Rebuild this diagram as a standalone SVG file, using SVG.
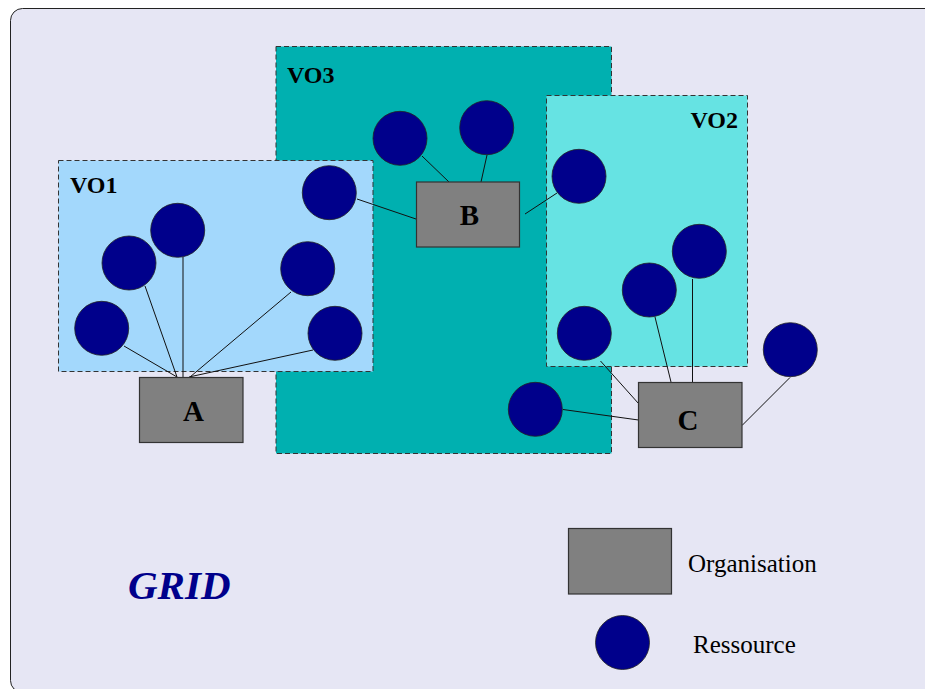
<svg xmlns="http://www.w3.org/2000/svg" width="925" height="689" viewBox="0 0 925 689">
<style>
.vo{stroke:#333;stroke-width:1;stroke-dasharray:5,3}
.org{fill:#808080;stroke:#333;stroke-width:1.2}
.res{fill:#00008B;stroke:#222;stroke-width:0.8}
.conn line{stroke:#111;stroke-width:1}
.lbl{font-family:"Liberation Serif",serif;font-weight:bold;fill:#000}
.leg{font-family:"Liberation Serif",serif;font-size:25px;fill:#000}
</style>
<rect x="0" y="0" width="925" height="689" fill="#ffffff"/>
<rect x="10.5" y="8.5" width="930" height="684" rx="12" fill="#E6E6F4" stroke="#222" stroke-width="1"/>
<g id="VO3"><rect class="vo" x="276" y="46.5" width="335.5" height="407" fill="#00B0B0"/><text class="lbl" x="287" y="83" font-size="24">VO3</text></g>
<g id="VO1"><rect class="vo" x="58.5" y="160.5" width="314.5" height="211" fill="#A3D8FC"/><text class="lbl" x="70" y="192.5" font-size="24">VO1</text></g>
<g id="VO2"><rect class="vo" x="546.5" y="95.5" width="201" height="271" fill="#66E3E3"/><text class="lbl" x="738" y="127.5" font-size="24" text-anchor="end">VO2</text></g>
<g id="connectors" class="conn">
<line x1="124" y1="346" x2="177" y2="377"/>
<line x1="145" y1="286" x2="177" y2="377"/>
<line x1="183" y1="257" x2="183" y2="377"/>
<line x1="291" y1="292" x2="190" y2="377"/>
<line x1="313" y1="350" x2="189" y2="377"/>
<line x1="357" y1="199" x2="416" y2="219"/>
<line x1="422" y1="156" x2="449" y2="182"/>
<line x1="487" y1="155" x2="481" y2="182"/>
<line x1="557" y1="193" x2="525" y2="214"/>
<line x1="600.5" y1="361" x2="638.5" y2="403.5"/>
<line x1="655" y1="317" x2="671" y2="382"/>
<line x1="692.5" y1="279" x2="692.5" y2="382"/>
<line x1="563" y1="409.5" x2="638.5" y2="420"/>
<line x1="790" y1="377.5" x2="742" y2="425.5"/>
</g>
<g id="A"><rect class="org" x="139.5" y="377.5" width="103.5" height="65"/><text class="lbl" x="193.5" y="421" font-size="29" text-anchor="middle">A</text></g>
<g id="B"><rect class="org" x="416.5" y="182" width="103" height="65"/><text class="lbl" x="469.5" y="224.5" font-size="29" text-anchor="middle">B</text></g>
<g id="C"><rect class="org" x="638.5" y="382.5" width="103.5" height="65"/><text class="lbl" x="688" y="430" font-size="29" text-anchor="middle">C</text></g>
<g id="r1"><circle class="res" cx="101.7" cy="328.3" r="27"/></g>
<g id="r2"><circle class="res" cx="129" cy="263" r="27"/></g>
<g id="r3"><circle class="res" cx="177.7" cy="230.3" r="27"/></g>
<g id="r4"><circle class="res" cx="307.7" cy="268.7" r="27"/></g>
<g id="r5"><circle class="res" cx="335" cy="333.3" r="27"/></g>
<g id="r6"><circle class="res" cx="329.3" cy="192.7" r="27"/></g>
<g id="r7"><circle class="res" cx="400" cy="138.3" r="27"/></g>
<g id="r8"><circle class="res" cx="486.7" cy="127.7" r="27"/></g>
<g id="r9"><circle class="res" cx="579" cy="176.3" r="27"/></g>
<g id="r10"><circle class="res" cx="699.3" cy="251.3" r="27"/></g>
<g id="r11"><circle class="res" cx="649.3" cy="290" r="27"/></g>
<g id="r12"><circle class="res" cx="584.3" cy="333.3" r="27"/></g>
<g id="r13"><circle class="res" cx="535.3" cy="409.3" r="27"/></g>
<g id="r14"><circle class="res" cx="790.3" cy="349.7" r="27"/></g>
<g id="grid-label"><text x="128" y="599" font-family="Liberation Serif, serif" font-size="41" font-weight="bold" font-style="italic" fill="#00008B">GRID</text></g>
<g id="legend">
<rect class="org" x="568.5" y="528.5" width="103" height="65.5"/>
<text class="leg" x="688" y="572">Organisation</text>
<circle class="res" cx="622.5" cy="642.5" r="27"/>
<text class="leg" x="693" y="653">Ressource</text>
</g>
</svg>
